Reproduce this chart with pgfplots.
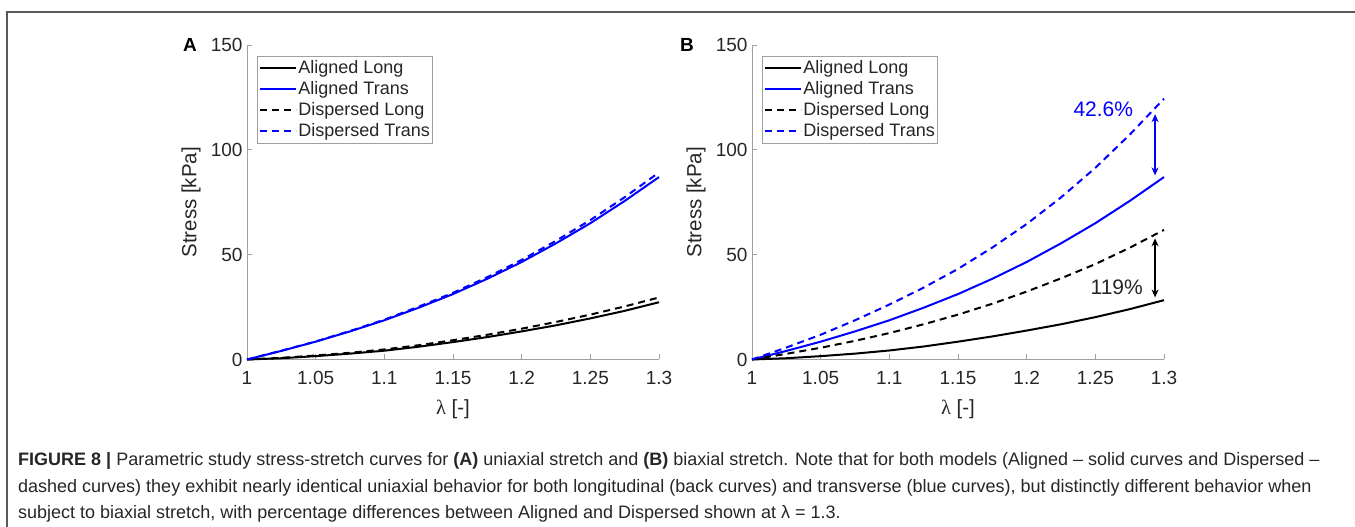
\documentclass[border=0pt]{standalone}
\usepackage{fontspec}
\setmainfont{Liberation Sans}
\newfontfamily\lamfont{Liberation Serif}
\usepackage{pgfplots}
\usepackage{pgfplotstable}
\pgfplotsset{compat=1.18}
\usetikzlibrary{arrows.meta}

\definecolor{mblue}{RGB}{0,0,255}
\definecolor{axgray}{RGB}{160,160,160}
\definecolor{txt}{RGB}{38,38,38}

% uniaxial (A)
\pgfplotstableread{
lam   al    at    dl    dt
1.000 0.0   0.0   0.0   0.0
1.025 0.6   4.1   0.8   4.2
1.050 1.6   8.5   1.9   8.6
1.075 2.8   13.4  3.2   13.6
1.100 4.2   18.7  4.8   19.0
1.125 6.1   24.7  6.8   25.2
1.150 8.3   31.2  9.2   31.8
1.175 10.7  38.5  11.8  39.3
1.200 13.4  46.5  14.7  47.5
1.225 16.3  55.4  17.9  56.6
1.250 19.6  65.0  21.4  66.5
1.275 23.2  75.6  25.3  77.4
1.300 27.3  87.0  29.6  89.2
}\uniax

% biaxial (B)
\pgfplotstableread{
lam   al    at    dl    dt
1.000 0.0   0.0   0.0   0.0
1.025 0.6   4.1   2.7   5.7
1.050 1.6   8.5   5.6   11.8
1.075 2.8   13.4  8.9   18.7
1.100 4.3   18.7  12.6  26.2
1.125 6.2   24.7  16.8  34.3
1.150 8.5   31.2  21.4  43.2
1.175 11.0  38.5  26.6  53.4
1.200 13.8  46.5  32.4  64.6
1.225 16.8  55.4  38.7  77.3
1.250 20.2  65.0  45.5  91.4
1.275 24.0  75.6  53.3  107.2
1.300 28.3  87.0  61.8  124.4
}\biax

\pgfplotsset{
  panel/.style={
    scale only axis, width=412pt, height=314.5pt,
    xmin=1, xmax=1.3, ymin=0, ymax=150,
    axis x line*=bottom, axis y line*=left,
    axis line style={axgray, line width=0.8pt},
    tick align=inside, major tick length=5pt,
    tick style={axgray, line width=0.8pt},
    xtick={1,1.05,1.1,1.15,1.2,1.25,1.3},
    xticklabels={1,1.05,1.1,1.15,1.2,1.25,1.3},
    ytick={0,50,100,150}, yticklabels={0,50,100,150},
    ticklabel style={font=\fontsize{19}{19}\selectfont, text=txt},
    xticklabel style={yshift=-8pt},
    yticklabel style={xshift=-1pt},
    xlabel={{\lamfont λ} [-]},
    ylabel={Stress [kPa]},
    label style={font=\fontsize{20.5}{20.5}\selectfont, text=txt},
    xlabel style={at={(axis description cs:0.5,0)}, anchor=center, yshift=-50pt},
    ylabel style={at={(axis description cs:-0.136,0.5)}, anchor=center},
    clip=false,
    legend cell align=left,
    legend image code/.code={\draw[##1] (0pt,0pt) -- (36pt,0pt);},
    legend style={at={(axis description cs:0.0243,0.965)}, anchor=north west,
      draw=axgray, fill=white, line width=0.8pt, inner xsep=2pt, inner ysep=1.5pt,
      font=\fontsize{18}{18}\selectfont, text=txt,
      nodes={inner xsep=1pt, inner ysep=1pt, text height=14.3pt, text depth=4.7pt}},
  },
  sol/.style={line width=2pt},
  dsh/.style={line width=2pt, dash pattern=on 7pt off 5pt},
}

\begin{document}
\begin{tikzpicture}[x=1pt,y=1pt]
\useasboundingbox (0,0) rectangle (1355,527);
\draw[black!65, line width=1.2pt] (7,0) -- (7,515) -- (1355,515);

\begin{axis}[panel, at={(247pt,167.5pt)}, anchor=south west]
\addplot[sol, black] table[x=lam, y=al] {\uniax};
\addplot[sol, mblue] table[x=lam, y=at] {\uniax};
\addplot[dsh, black] table[x=lam, y=dl] {\uniax};
\addplot[dsh, mblue] table[x=lam, y=dt] {\uniax};
\legend{Aligned Long, Aligned Trans, Dispersed Long, Dispersed Trans}
\end{axis}

\begin{axis}[panel, at={(752pt,167.5pt)}, anchor=south west]
\addplot[sol, black] table[x=lam, y=al] {\biax};
\addplot[sol, mblue] table[x=lam, y=at] {\biax};
\addplot[dsh, black] table[x=lam, y=dl] {\biax};
\addplot[dsh, mblue] table[x=lam, y=dt] {\biax};
\legend{Aligned Long, Aligned Trans, Dispersed Long, Dispersed Trans}
\draw[mblue, line width=1.8pt, {Stealth[length=8pt,width=7pt]}-{Stealth[length=8pt,width=7pt]}]
  (axis cs:1.2935,117) -- (axis cs:1.2935,87.8);
\draw[black, line width=1.8pt, {Stealth[length=8pt,width=7pt]}-{Stealth[length=8pt,width=7pt]}]
  (axis cs:1.2935,57.8) -- (axis cs:1.2935,29.6);
\node[mblue, font=\fontsize{21}{21}\selectfont] at (axis cs:1.2558,119.4) {42.6\%};
\node[txt, font=\fontsize{21}{21}\selectfont] at (axis cs:1.2656,34.4) {119\%};
\end{axis}

\node[font=\bfseries\fontsize{19}{19}\selectfont, text=black] at (190,482) {A};
\node[font=\bfseries\fontsize{19}{19}\selectfont, text=black] at (687,482) {B};

\begin{scope}[every node/.style={anchor=base west, inner sep=0pt, text=txt,
    font=\fontsize{18}{18}\selectfont}]
\node at (18,61) {\textbf{FIGURE 8 |} Parametric study stress-stretch curves for \textbf{(A)} uniaxial stretch and \textbf{(B)} biaxial stretch. Note that for both models (Aligned – solid curves and Dispersed –};
\node at (18,34.5) {dashed curves) they exhibit nearly identical uniaxial behavior for both longitudinal (back curves) and transverse (blue curves), but distinctly different behavior when};
\node at (18,8.5) {subject to biaxial stretch, with percentage differences between Aligned and Dispersed shown at λ = 1.3.};
\end{scope}
\end{tikzpicture}
\end{document}
